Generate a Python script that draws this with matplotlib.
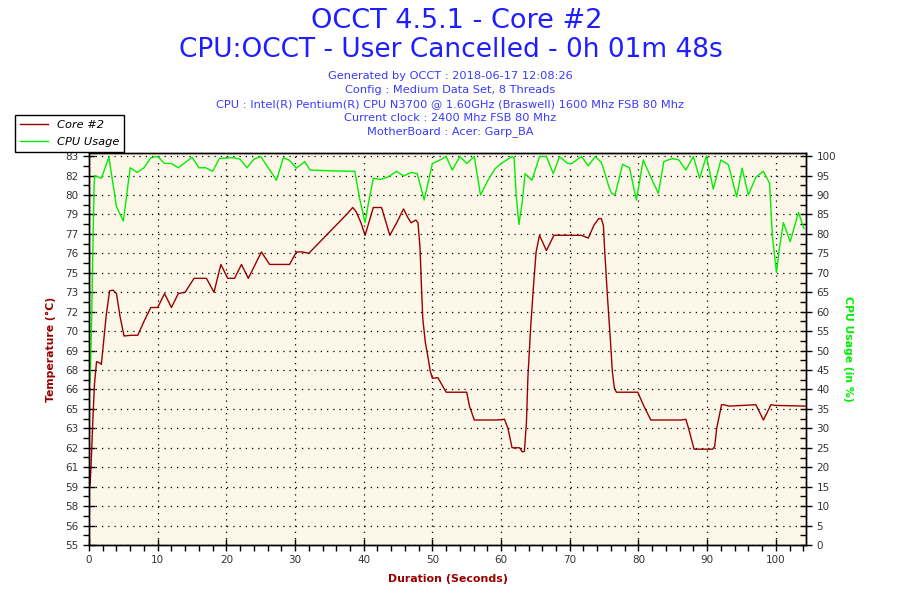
import numpy as np
import matplotlib
matplotlib.use("Agg")
import matplotlib.pyplot as plt
from matplotlib.ticker import MultipleLocator, FixedLocator

# Core #2 temperature (seconds, degC)
temp_t = [0.15, 0.3, 0.55, 0.8, 1.1, 1.6, 1.8, 2.0, 2.5, 3.0, 3.5, 4.0, 4.5, 5.1,
          6.1, 7.1, 8.1, 9.0, 10.0, 11.0, 12.0, 13.0, 14.0, 15.3, 16.2, 17.1, 18.2,
          19.2, 20.2, 21.2, 22.2, 23.2, 25.1, 26.3, 29.2, 30.2, 31.1, 32.0, 37.7,
          38.4, 38.9, 39.6, 40.2, 41.4, 42.6, 43.8, 44.8, 45.8, 46.4, 46.9, 47.6,
          47.9, 48.2, 48.4, 48.6, 48.97, 49.4, 49.7, 50.0, 50.8, 52.0, 55.0, 55.4,
          56.1, 59.3, 60.5, 61.0, 61.6, 62.7, 63.1, 63.4, 63.7, 63.9, 64.3, 64.7,
          65.1, 65.6, 66.6, 67.7, 71.7, 72.7, 73.5, 74.2, 74.6, 74.9, 75.1, 75.5,
          75.9, 76.2, 76.5, 76.8, 79.9, 80.8, 81.8, 86.2, 86.9, 87.3, 88.1, 90.8,
          91.1, 91.4, 92.1, 92.4, 93.2, 97.1, 98.2, 99.3, 100.0, 104.4]
temp_c = [59.3, 60.7, 63.9, 66.6, 68.2, 68.1, 68.0, 69.0, 71.5, 73.3, 73.35, 73.1, 71.5, 70.05,
          70.1, 70.1, 71.2, 72.1, 72.1, 73.1, 72.1, 73.1, 73.2, 74.2, 74.2, 74.2, 73.2,
          75.2, 74.2, 74.2, 75.2, 74.2, 76.1, 75.2, 75.2, 76.1, 76.1, 76.0, 78.9,
          79.3, 79.0, 78.2, 77.3, 79.3, 79.3, 77.3, 78.2, 79.2, 78.6, 78.2, 78.4,
          78.2, 76.4, 73.7, 71.3, 69.6, 68.4, 67.5, 67.0, 67.05, 66.0, 66.0, 65.0,
          64.0, 64.0, 64.05, 63.4, 62.0, 62.0, 61.7, 61.75, 63.9, 67.0, 70.6, 73.5,
          76.1, 77.3, 76.2, 77.3, 77.3, 77.1, 78.0, 78.5, 78.5, 78.0, 76.1, 72.8,
          69.9, 67.5, 66.3, 66.0, 66.0, 65.0, 64.0, 64.0, 64.05, 63.4, 61.9, 61.9,
          62.1, 63.4, 65.1, 65.1, 65.0, 65.1, 64.0, 65.1, 65.05, 65.0]

# CPU usage (seconds, %)
cpu_t = [0.15, 0.35, 0.55, 0.75, 0.85, 1.8, 2.9, 4.0, 5.0, 6.0, 7.0, 8.0, 9.0, 10.0,
         11.0, 12.0, 13.0, 15.0, 16.0, 17.0, 18.0, 19.0, 21.0, 22.0, 23.0, 24.0, 25.0,
         27.3, 28.3, 29.2, 30.2, 31.4, 32.2, 35.5, 38.7, 39.4, 40.2, 40.7, 41.4, 42.4,
         43.5, 44.8, 45.8, 46.9, 47.8, 48.8, 50.0, 51.1, 52.0, 52.9, 54.0, 55.0, 56.1,
         57.0, 58.1, 59.1, 60.0, 61.6, 61.9, 62.2, 62.6, 63.1, 63.5, 64.5, 65.6, 66.6,
         67.6, 68.5, 69.7, 70.3, 71.7, 72.7, 73.7, 74.6, 75.2, 75.7, 76.1, 76.6, 77.7,
         78.7, 79.7, 80.7, 81.8, 82.9, 83.7, 84.95, 85.9, 86.9, 88.0, 88.9, 89.9, 90.9,
         92.0, 93.1, 94.3, 95.1, 96.0, 97.1, 98.2, 99.1, 99.5, 100.1, 100.5, 101.1,
         102.1, 103.3, 104.1]
cpu_pct = [42, 55, 75, 93, 95, 94.3, 99.7, 87, 83.3, 97, 95.8, 97, 99.6, 99.9,
           98.1, 98.1, 97, 99.7, 97, 97, 96.1, 99.4, 99.6, 99.2, 97, 99.2, 99.9,
           93.8, 99.6, 98.9, 96.9, 98.6, 96.4, 96.2, 96.1, 89.1, 82.9, 88, 94.3, 94.0,
           94.6, 96.1, 94.9, 95.8, 95.5, 88.7, 98.1, 99.0, 99.9, 96.4, 99.9, 98.1, 99.9,
           90.0, 93.8, 96.7, 98.1, 99.9, 99.5, 90, 82.4, 88.5, 95.5, 93.8, 99.9, 99.9,
           95.5, 99.9, 98.1, 98.1, 99.9, 97.5, 99.9, 98.4, 95.1, 92.1, 90.4, 90.1, 97.9,
           97.0, 88.7, 99.0, 94.6, 90.4, 98.6, 99.4, 99.0, 96.4, 99.9, 94.3, 100, 91.5,
           99.0, 97.8, 89.5, 96.9, 90.0, 94.6, 96.1, 93.0, 79.5, 70.1, 76, 82.9,
           78.0, 85.5, 81.4]

title_lines = ["OCCT 4.5.1 - Core #2", "CPU:OCCT - User Cancelled - 0h 01m 48s"]
info_lines = ["Generated by OCCT : 2018-06-17 12:08:26",
              "Config : Medium Data Set, 8 Threads",
              "CPU : Intel(R) Pentium(R) CPU N3700 @ 1.60GHz (Braswell) 1600 Mhz FSB 80 Mhz",
              "Current clock : 2400 Mhz FSB 80 Mhz",
              "MotherBoard : Acer: Garp_BA"]

RED = "#990000"
GREEN = "#00EE00"
BLUE = "#1E1EFF"
TEMP_MIN, TEMP_MAX = 55.0, 83.0
PCT_TOP = 100.8
X_MAX = 104.4

fig = plt.figure(figsize=(9, 6), dpi=100, facecolor="white")
ax = fig.add_axes([89 / 900, 1 - 545 / 600, (806 - 89) / 900, (545 - 153) / 600])
ax.set_facecolor("#FDF7E9")
ax2 = ax.twinx()

# title block
fig.text(0.507, 1 - 21 / 600, title_lines[0], ha="center", va="center", fontsize=19.5, color=BLUE)
fig.text(0.501, 1 - 50 / 600, title_lines[1], ha="center", va="center", fontsize=19, color=BLUE)
for i, line in enumerate(info_lines):
    fig.text(0.5, 1 - (76 + 14 * i) / 600, line, ha="center", va="center", fontsize=8.2, color="#3A3AFF")

l1, = ax.plot(temp_t, temp_c, color=RED, lw=1.0)
l2, = ax2.plot(cpu_t, cpu_pct, color=GREEN, lw=1.0)

ax.set_xlim(0, X_MAX)
ax.set_ylim(TEMP_MIN, TEMP_MIN + (TEMP_MAX - TEMP_MIN) * PCT_TOP / 100)
ax2.set_ylim(0, PCT_TOP)

# left axis labels come from a 20-step scale matching the % grid
temp_ticks = np.linspace(TEMP_MIN, TEMP_MAX, 21)
ax.yaxis.set_major_locator(FixedLocator(temp_ticks))
ax.set_yticklabels([f"{v:.0f}" for v in temp_ticks])
ax.yaxis.set_minor_locator(FixedLocator(temp_ticks[:-1] + 0.7))
ax.xaxis.set_major_locator(MultipleLocator(10))
ax.xaxis.set_minor_locator(MultipleLocator(2))
ax2.yaxis.set_major_locator(MultipleLocator(5))
ax2.yaxis.set_minor_locator(MultipleLocator(2.5))

ax.tick_params(axis="both", which="major", direction="inout", length=8, width=1, labelsize=7.5,
               colors="black", labelcolor="#333333")
ax.tick_params(axis="x", which="minor", direction="out", length=4, width=1)
ax.tick_params(axis="y", which="minor", direction="out", length=4, width=1)
ax2.tick_params(axis="y", which="major", direction="inout", length=8, width=1, labelsize=7.5,
                labelcolor="#333333")
ax2.tick_params(axis="y", which="minor", direction="in", length=4, width=1)

ax.grid(True, axis="x", which="major", color="black", linestyle=(0, (1, 4)), lw=0.9)
ax2.grid(True, axis="y", which="major", color="black", linestyle=(0, (1, 4)), lw=0.9)

for a in (ax, ax2):
    for s in a.spines.values():
        s.set_color("black")
        s.set_linewidth(1)

ax.set_xlabel("Duration (Seconds)", color=RED, fontsize=7.9, fontweight="bold", labelpad=6)
ax.set_ylabel("Temperature (\u00b0C)", color=RED, fontsize=7.8, fontweight="bold", labelpad=7)
ax2.set_ylabel("CPU Usage (in %)", color=GREEN, fontsize=7.8, fontweight="bold", rotation=-90, labelpad=12)

leg = fig.legend([l1, l2], ["Core #2", "CPU Usage"], loc="upper left",
                 bbox_to_anchor=(15 / 900, 1 - 115 / 600), fancybox=False, framealpha=1,
                 edgecolor="black", prop={"style": "italic", "size": 8.2},
                 handlelength=2.5, handletextpad=0.8, borderpad=0.4, labelspacing=0.65,
                 borderaxespad=0)
leg.get_frame().set_linewidth(1)

fig.savefig("out.png", dpi=100, facecolor="white")
